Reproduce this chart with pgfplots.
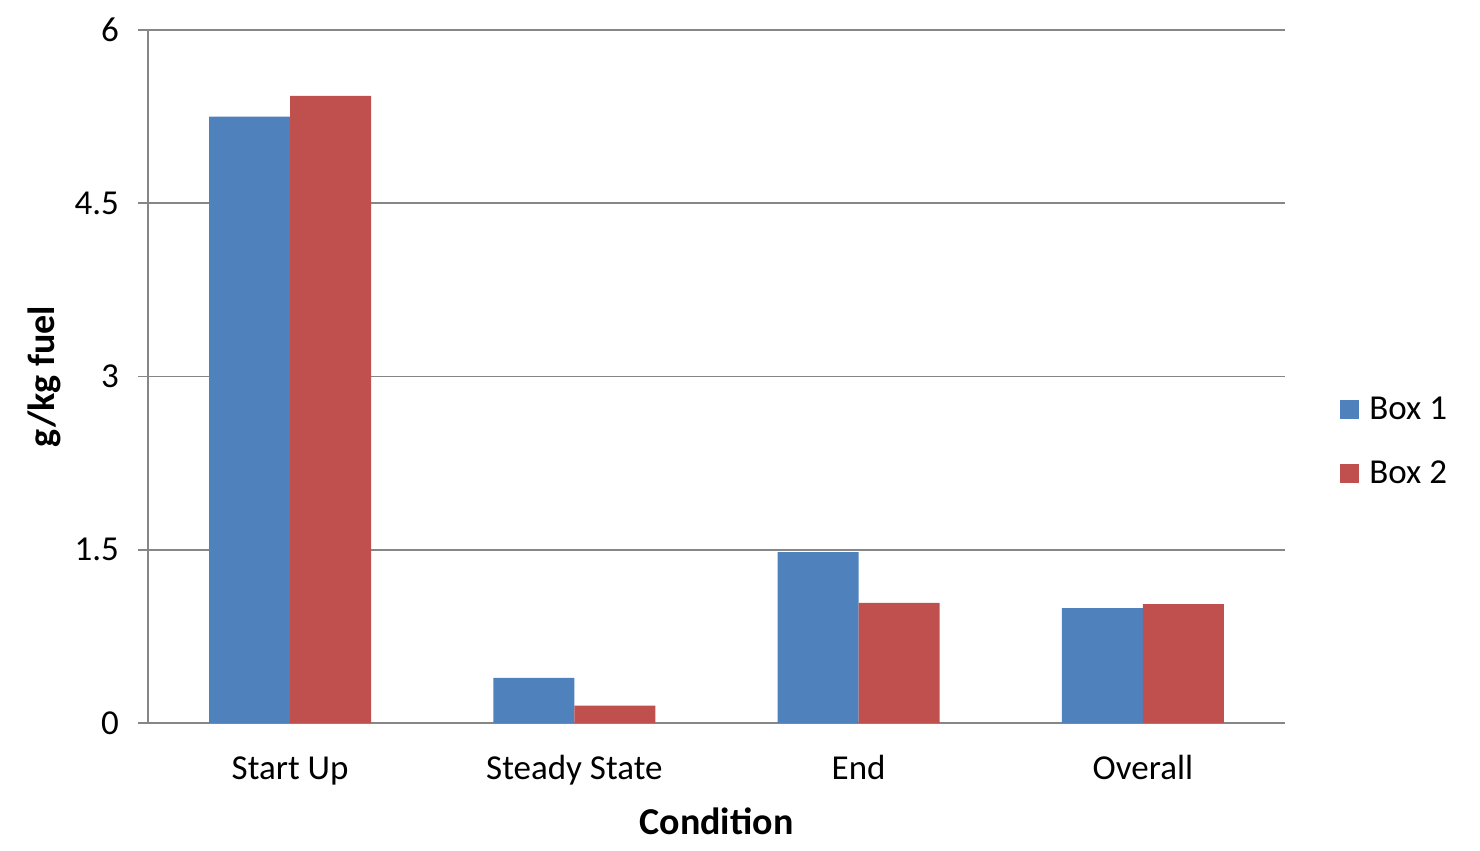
\documentclass[border=0pt]{standalone}
\usepackage{fontspec}
\setmainfont{Carlito}
\usepackage{pgfplots}
\pgfplotsset{compat=1.18}

\definecolor{boxone}{HTML}{4F81BD}
\definecolor{boxtwo}{HTML}{C0504D}
\definecolor{axisgray}{HTML}{868686}

\begin{document}
\begin{tikzpicture}[font=\fontsize{17.5}{21}\selectfont]
\begin{axis}[
  name=ax,
  scale only axis,
  width=568.5pt, height=346.5pt,
  ybar=0pt, bar width=40.5pt,
  xmin=-0.5, xmax=3.5,
  ymin=0, ymax=6,
  xtick=data,
  xticklabels={Start Up, Steady State, End, Overall},
  ytick={0,1.5,3,4.5,6},
  /pgf/number format/assume math mode=true,
  axis x line*=bottom, axis y line*=left,
  axis line style={axisgray, line width=0.8pt, -},
  x axis line style={-},
  y axis line style={-},
  xtick style={draw=none},
  ytick style={axisgray, line width=0.8pt},
  tick align=outside,
  major tick length=5pt,
  ymajorgrids,
  grid style={axisgray, line width=0.8pt},
  yticklabel style={anchor=east, xshift=-6pt},
  xticklabel style={anchor=base, yshift=-23.5pt},
  xlabel={\textbf{Condition}},
  ylabel={\textbf{g/kg fuel}},
  xlabel style={at={([yshift=-56pt]axis description cs:0.5,0)}, anchor=base,
    font=\fontsize{19}{23}\selectfont},
  ylabel style={at={([xshift=-46.5pt]axis description cs:0,0.5)}, anchor=base,
    font=\fontsize{19}{23}\selectfont},
  legend style={draw=none, inner sep=0pt, at={([xshift=27.5pt]axis description cs:1,0.406)},
    anchor=west, row sep=15pt, column sep=3pt,
    font=\fontsize{17.5}{21}\selectfont},
  legend cell align=left,
  legend image code/.code={\fill[#1] (0pt,-4.75pt) rectangle (9.5pt,4.75pt);},
]
\addplot[fill=boxone, draw=none] coordinates {(0,5.25) (1,0.39) (2,1.48) (3,0.995)};
\addplot[fill=boxtwo, draw=none] coordinates {(0,5.43) (1,0.15) (2,1.04) (3,1.03)};
\legend{Box 1, Box 2}
\end{axis}
% page frame around the plot area
\path (ax.south west) ++(-74pt,-64pt) coordinate (pa);
\path (ax.north east) ++(97.5pt,15pt) coordinate (pb);
\path (pa) rectangle (pb);
\end{tikzpicture}
\end{document}
